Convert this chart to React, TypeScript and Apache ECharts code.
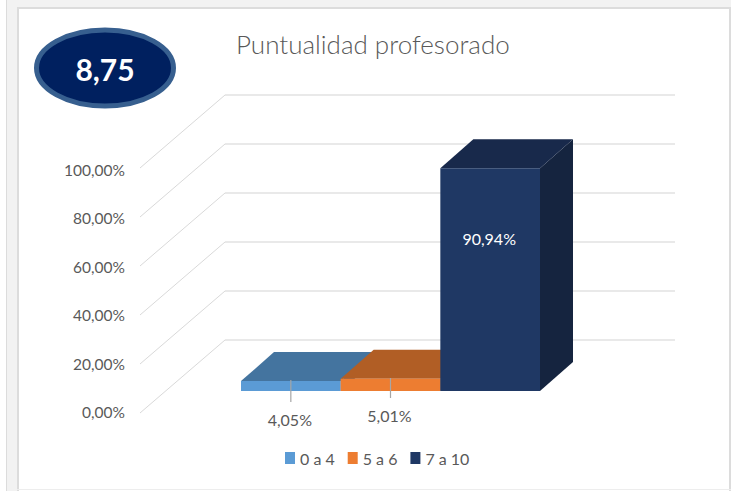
import React, { useEffect, useRef } from "react";
import * as echarts from "echarts";

const categories = ["0 a 4", "5 a 6", "7 a 10"];
const values = [4.05, 5.01, 90.94];
const yTicks = [0, 20, 40, 60, 80, 100];
const titleText = "Puntualidad profesorado";
const badgeText = "8,75";

const frontColors = ["#5B9BD5", "#ED7D31", "#1F3864"];
const topColors = ["#44749F", "#B15E25", "#18294B"];
const sideColors = ["#3D6A92", "#A05522", "#15243F"];

const FONT = "Lato, Carlito, sans-serif";
const LABEL = "#595959";

// oblique depth of the bars and of the walls
const BAR_DX = 33;
const BAR_DY = -29;
const WALL_DX = 85;
const WALL_DY = -73;
const WALL_W = 450;

// data label placement: [offset from column centre, leader start, leader end, label centre], relative to the floor line
const labelPlacement = [
  { dx: 0, from: -11, to: 11, y: 28, leader: true, fill: LABEL },
  { dx: 0, from: -13, to: 7, y: 24, leader: true, fill: LABEL },
  { dx: 0, from: 0, to: 0, y: -153, leader: false, fill: "#FFFFFF" },
];

const fmt = (v: number) => v.toFixed(2).replace(".", ",") + "%";

function barRender(i: number) {
  return (params: any, api: any) => {
    const top = api.coord([api.value(0), api.value(1)]);
    const base = api.coord([api.value(0), 0]);
    const w = api.size([1, 0])[0];
    const x0 = base[0] - w / 2;
    const x1 = base[0] + w / 2;
    const yT = top[1];
    const yB = base[1];
    const p = labelPlacement[i];
    const children: any[] = [
      {
        type: "polygon",
        shape: { points: [[x1, yT], [x1 + BAR_DX, yT + BAR_DY], [x1 + BAR_DX, yB + BAR_DY], [x1, yB]] },
        style: { fill: sideColors[i] },
      },
      {
        type: "polygon",
        shape: { points: [[x0, yT], [x0 + BAR_DX, yT + BAR_DY], [x1 + BAR_DX, yT + BAR_DY], [x1, yT]] },
        style: { fill: topColors[i] },
      },
      {
        type: "rect",
        shape: { x: x0, y: yT, width: x1 - x0, height: yB - yT },
        style: { fill: frontColors[i] },
      },
    ];
    if (p.leader) {
      children.push({
        type: "line",
        shape: { x1: base[0] + p.dx, y1: yB + p.from, x2: base[0] + p.dx, y2: yB + p.to },
        style: { stroke: "#A6A6A6", lineWidth: 1.2 },
      });
    }
    children.push({
      type: "text",
      style: {
        x: base[0] + p.dx - 1,
        y: yB + p.y,
        text: fmt(api.value(1)),
        fill: p.fill,
        font: `16px ${FONT}`,
        align: "center",
        verticalAlign: "middle",
      },
    });
    return { type: "group", children };
  };
}

function wallRender(params: any, api: any) {
  const p = api.coord([0, api.value(0)]);
  const bx = p[0] + WALL_DX;
  const by = p[1] + WALL_DY;
  return {
    type: "group",
    children: [
      { type: "line", shape: { x1: p[0], y1: p[1], x2: bx, y2: by }, style: { stroke: "#D9D9D9", lineWidth: 1 } },
      { type: "line", shape: { x1: bx, y1: by, x2: bx + WALL_W, y2: by }, style: { stroke: "#E2E2E2", lineWidth: 1.5 } },
    ],
  };
}

export default function App() {
  const ref = useRef<HTMLDivElement>(null);
  useEffect(() => {
    const chart = echarts.init(ref.current!, null, { renderer: "svg" });
    chart.setOption({
      animation: false,
      backgroundColor: "#FFFFFF",
      title: {
        text: titleText,
        left: 231,
        top: 26,
        textStyle: { fontFamily: FONT, fontWeight: 300, fontSize: 26, color: LABEL },
      },
      legend: {
        data: categories,
        left: 280,
        top: 445,
        icon: "rect",
        itemWidth: 10,
        itemHeight: 12,
        itemGap: 13,
        textStyle: { fontFamily: FONT, fontSize: 16, color: LABEL },
      },
      grid: [
        { left: 140, top: 168, width: 300, height: 245 },
        { left: 241, top: 146, width: 299, height: 245 },
        { left: 140, top: 170, width: 300, height: 242 },
      ],
      xAxis: [
        { gridIndex: 0, type: "value", min: 0, max: 1, show: false },
        { gridIndex: 1, type: "category", data: categories, show: false },
        { gridIndex: 2, type: "value", min: 0, max: 1, show: false },
      ],
      yAxis: [
        { gridIndex: 0, type: "value", min: 0, max: 100, interval: 20, show: false },
        { gridIndex: 1, type: "value", min: 0, max: 100, interval: 20, show: false },
        {
          gridIndex: 2,
          type: "value",
          min: 0,
          max: 100,
          interval: 20,
          axisLine: { show: false },
          axisTick: { show: false },
          splitLine: { show: false },
          axisLabel: {
            margin: 15,
            fontFamily: FONT,
            fontSize: 15.5,
            color: LABEL,
            formatter: (v: number) => fmt(v),
          },
        },
      ],
      series: [
        {
          type: "custom",
          name: "walls",
          xAxisIndex: 0,
          yAxisIndex: 0,
          coordinateSystem: "cartesian2d",
          silent: true,
          data: yTicks.map((t) => [t]),
          encode: { y: 0 },
          renderItem: wallRender,
          z: 1,
        },
        ...categories.map((c, i) => ({
          type: "custom",
          name: c,
          xAxisIndex: 1,
          yAxisIndex: 1,
          coordinateSystem: "cartesian2d",
          itemStyle: { color: frontColors[i] },
          data: [[c, values[i]]],
          encode: { x: 0, y: 1 },
          renderItem: barRender(i),
          z: 2 + i,
        })),
      ],
      graphic: [
        { type: "rect", silent: true, z: -1, shape: { x: 0, y: 0, width: 731, height: 7 }, style: { fill: "#F2F2F2" } },
        { type: "rect", silent: true, z: -1, shape: { x: 7, y: 0, width: 10, height: 491 }, style: { fill: "#F2F2F2" } },
        { type: "rect", silent: true, z: -1, shape: { x: 0, y: 0, width: 6, height: 491 }, style: { fill: "#FFFFFF" } },
        { type: "rect", silent: true, z: -1, shape: { x: 6, y: 0, width: 1, height: 491 }, style: { fill: "#DCDCDC" } },
        { type: "rect", silent: true, z: -1, shape: { x: 17, y: 7, width: 2, height: 484 }, style: { fill: "#DCDCDC" } },
        { type: "rect", silent: true, z: -1, shape: { x: 17, y: 7, width: 714, height: 2 }, style: { fill: "#DCDCDC" } },
        { type: "rect", silent: true, z: -1, shape: { x: 729, y: 7, width: 2, height: 484 }, style: { fill: "#DCDCDC" } },
        { type: "rect", silent: true, z: -1, shape: { x: 17, y: 489, width: 714, height: 1 }, style: { fill: "#EDEDED" } },
        {
          type: "ellipse",
          z: 10,
          shape: { cx: 105, cy: 68, rx: 68.5, ry: 38 },
          style: { fill: "#00205F", stroke: "#375F8F", lineWidth: 5 },
        },
        {
          type: "text",
          z: 11,
          style: {
            x: 105,
            y: 69,
            text: badgeText,
            fill: "#FFFFFF",
            font: `bold 30px ${FONT}`,
            align: "center",
            verticalAlign: "middle",
          },
        },
      ],
    });
    return () => chart.dispose();
  }, []);
  return <div ref={ref} style={{ position: "fixed", left: 0, top: 0, width: 731, height: 491 }} />;
}
